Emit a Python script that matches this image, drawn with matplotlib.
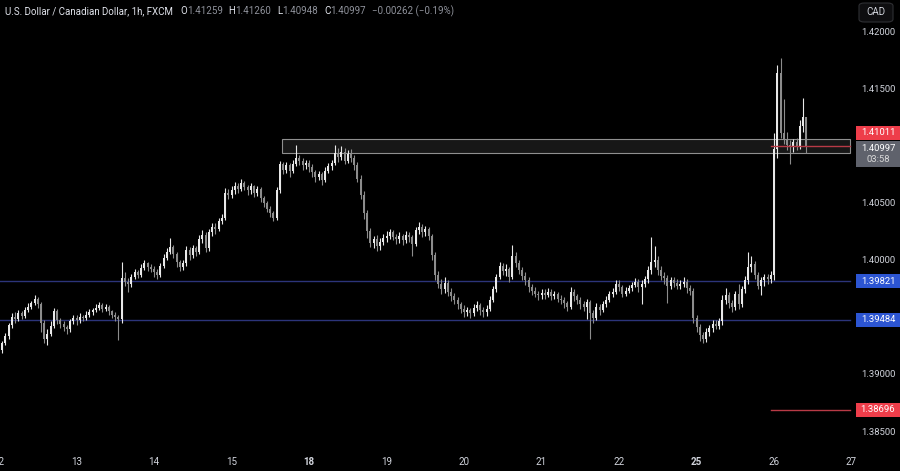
import matplotlib
matplotlib.use("Agg")
import matplotlib.pyplot as plt
from matplotlib.patches import Rectangle, FancyBboxPatch
import numpy as np

# USD/CAD 1h candles, 12th -> 26th (weekend removed)
first_open = 1.3929
closes = [
    # 12
    1.3922, 1.3928, 1.3934, 1.3944, 1.3951, 1.3949, 1.3954, 1.3952, 1.3957, 1.3960, 1.3963, 1.3967,
    1.3962, 1.3946, 1.3932, 1.3936, 1.3943, 1.3956, 1.3948, 1.3945, 1.3942, 1.3940, 1.3947, 1.3950,
    # 13
    1.3948, 1.3951, 1.3950, 1.3953, 1.3955, 1.3957, 1.3959, 1.3961, 1.3958, 1.3960, 1.3956, 1.3953,
    1.3951, 1.3949, 1.3985, 1.3982, 1.3980, 1.3986, 1.3990, 1.3988, 1.3994, 1.3998, 1.3995, 1.3993,
    # 14
    1.3990, 1.3988, 1.3996, 1.4003, 1.4008, 1.4012, 1.4006, 1.3999, 1.3995, 1.3998, 1.4010, 1.4005,
    1.4011, 1.4008, 1.4019, 1.4023, 1.4011, 1.4025, 1.4030, 1.4028, 1.4035, 1.4038, 1.4060, 1.4058,
    # 15
    1.4062, 1.4066, 1.4063, 1.4068, 1.4065, 1.4062, 1.4066, 1.4060, 1.4063, 1.4055, 1.4051, 1.4046,
    1.4042, 1.4038, 1.4062, 1.4085, 1.4080, 1.4084, 1.4079, 1.4085, 1.4090, 1.4088, 1.4084, 1.4086,
    # 18
    1.4082, 1.4078, 1.4074, 1.4076, 1.4071, 1.4079, 1.4083, 1.4086, 1.4095, 1.4091, 1.4096, 1.4088,
    1.4094, 1.4090, 1.4084, 1.4072, 1.4058, 1.4042, 1.4026, 1.4016, 1.4019, 1.4013, 1.4017, 1.4020,
    # 19
    1.4022, 1.4025, 1.4021, 1.4019, 1.4022, 1.4018, 1.4023, 1.4021, 1.4015, 1.4027, 1.4030, 1.4025,
    1.4028, 1.4022, 1.4005, 1.3988, 1.3980, 1.3975, 1.3981, 1.3973, 1.3969, 1.3966, 1.3962, 1.3958,
    # 20
    1.3955, 1.3957, 1.3954, 1.3959, 1.3961, 1.3957, 1.3955, 1.3958, 1.3966, 1.3975, 1.3986, 1.3996,
    1.3991, 1.3993, 1.3986, 1.4004, 1.3998, 1.3992, 1.3987, 1.3983, 1.3977, 1.3974, 1.3971, 1.3970,
    # 21
    1.3972, 1.3970, 1.3973, 1.3969, 1.3971, 1.3967, 1.3966, 1.3963, 1.3960, 1.3973, 1.3969, 1.3966,
    1.3962, 1.3960, 1.3964, 1.3954, 1.3950, 1.3960, 1.3957, 1.3962, 1.3966, 1.3971, 1.3973, 1.3980,
    # 22
    1.3977, 1.3971, 1.3974, 1.3976, 1.3979, 1.3982, 1.3977, 1.3980, 1.3984, 1.3992, 1.3999, 1.4001,
    1.3992, 1.3987, 1.3985, 1.3978, 1.3983, 1.3981, 1.3978, 1.3980, 1.3982, 1.3976, 1.3974, 1.3950,
    # 25
    1.3942, 1.3935, 1.3932, 1.3938, 1.3941, 1.3945, 1.3943, 1.3947, 1.3966, 1.3970, 1.3963, 1.3960,
    1.3971, 1.3962, 1.3975, 1.3983, 1.3995, 1.3997, 1.3988, 1.3978, 1.3983, 1.3986, 1.3984, 1.3988,
    # 26
    1.4098, 1.4165, 1.4112, 1.4107, 1.4102, 1.4100, 1.4104, 1.4101, 1.4118, 1.41259, 1.40997,
]
highs = [
    1.3931, 1.3930, 1.3937, 1.3946, 1.3954, 1.3955, 1.3957, 1.3956, 1.3960, 1.3963, 1.3965, 1.3970,
    1.3968, 1.3964, 1.3948, 1.3940, 1.3947, 1.3959, 1.3958, 1.3950, 1.3947, 1.3944, 1.3949, 1.3953,
    1.3953, 1.3954, 1.3953, 1.3956, 1.3958, 1.3959, 1.3962, 1.3964, 1.3963, 1.3962, 1.3961, 1.3957,
    1.3955, 1.3953, 1.3999, 1.3990, 1.3985, 1.3989, 1.3993, 1.3992, 1.3997, 1.4001, 1.3999, 1.3997,
    1.3996, 1.3993, 1.3998, 1.4006, 1.4011, 1.4020, 1.4014, 1.4008, 1.4001, 1.4001, 1.4013, 1.4012,
    1.4014, 1.4013, 1.4023, 1.4027, 1.4025, 1.4028, 1.4033, 1.4033, 1.4038, 1.4041, 1.4064, 1.4063,
    1.4066, 1.4069, 1.4068, 1.4072, 1.4070, 1.4067, 1.4068, 1.4067, 1.4066, 1.4065, 1.4057, 1.4053,
    1.4048, 1.4044, 1.4065, 1.4088, 1.4087, 1.4087, 1.4086, 1.4089, 1.4102, 1.4093, 1.4090, 1.4089,
    1.4089, 1.4085, 1.4080, 1.4079, 1.4078, 1.4082, 1.4086, 1.4089, 1.4102, 1.4099, 1.4101, 1.4099,
    1.4097, 1.4098, 1.4093, 1.4087, 1.4075, 1.4061, 1.4045, 1.4029, 1.4022, 1.4023, 1.4020, 1.4024,
    1.4026, 1.4028, 1.4027, 1.4024, 1.4025, 1.4024, 1.4026, 1.4025, 1.4023, 1.4030, 1.4034, 1.4032,
    1.4031, 1.4030, 1.4024, 1.4008, 1.3991, 1.3984, 1.3986, 1.3983, 1.3976, 1.3972, 1.3968, 1.3964,
    1.3961, 1.3960, 1.3959, 1.3962, 1.3965, 1.3963, 1.3960, 1.3961, 1.3969, 1.3978, 1.3989, 1.3999,
    1.3998, 1.3997, 1.3995, 1.4014, 1.4008, 1.4001, 1.3995, 1.3990, 1.3986, 1.3980, 1.3977, 1.3974,
    1.3975, 1.3975, 1.3976, 1.3975, 1.3974, 1.3973, 1.3970, 1.3968, 1.3965, 1.3977, 1.3975, 1.3971,
    1.3968, 1.3965, 1.3967, 1.3966, 1.3957, 1.3963, 1.3962, 1.3965, 1.3969, 1.3974, 1.3976, 1.3983,
    1.3983, 1.3979, 1.3977, 1.3979, 1.3982, 1.3985, 1.3984, 1.3983, 1.3987, 1.3996, 1.4021, 1.4013,
    1.4004, 1.3996, 1.3990, 1.3988, 1.3986, 1.3986, 1.3984, 1.3983, 1.3986, 1.3984, 1.3979, 1.3976,
    1.3953, 1.3945, 1.3938, 1.3941, 1.3944, 1.3948, 1.3948, 1.3950, 1.3970, 1.3976, 1.3973, 1.3966,
    1.3974, 1.3980, 1.3978, 1.3987, 1.4008, 1.4004, 1.4000, 1.3990, 1.3986, 1.3989, 1.3989, 1.3991,
    1.4112, 1.4172, 1.4178, 1.4142, 1.4113, 1.4106, 1.4107, 1.4108, 1.4124, 1.4143, 1.41260,
]
lows = [
    1.3918, 1.3919, 1.3926, 1.3932, 1.3941, 1.3946, 1.3947, 1.3949, 1.3950, 1.3955, 1.3958, 1.3961,
    1.3959, 1.3938, 1.3928, 1.3926, 1.3934, 1.3941, 1.3945, 1.3941, 1.3939, 1.3936, 1.3938, 1.3945,
    1.3944, 1.3946, 1.3947, 1.3948, 1.3951, 1.3953, 1.3955, 1.3957, 1.3955, 1.3956, 1.3953, 1.3950,
    1.3947, 1.3931, 1.3946, 1.3978, 1.3973, 1.3977, 1.3984, 1.3985, 1.3986, 1.3992, 1.3991, 1.3990,
    1.3986, 1.3984, 1.3986, 1.3994, 1.4001, 1.4006, 1.4003, 1.3995, 1.3991, 1.3992, 1.3996, 1.4001,
    1.4003, 1.4004, 1.4006, 1.4016, 1.4008, 1.4009, 1.4022, 1.4024, 1.4026, 1.4032, 1.4036, 1.4054,
    1.4055, 1.4059, 1.4060, 1.4061, 1.4062, 1.4058, 1.4059, 1.4056, 1.4057, 1.4052, 1.4047, 1.4043,
    1.4039, 1.4035, 1.4036, 1.4060, 1.4076, 1.4077, 1.4074, 1.4077, 1.4083, 1.4084, 1.4080, 1.4081,
    1.4078, 1.4074, 1.4069, 1.4071, 1.4067, 1.4069, 1.4077, 1.4080, 1.4084, 1.4087, 1.4089, 1.4085,
    1.4086, 1.4087, 1.4080, 1.4069, 1.4054, 1.4037, 1.4020, 1.4012, 1.4011, 1.4009, 1.4010, 1.4014,
    1.4017, 1.4019, 1.4018, 1.4015, 1.4016, 1.4014, 1.4016, 1.4017, 1.4004, 1.4013, 1.4024, 1.4021,
    1.4022, 1.4018, 1.4001, 1.3983, 1.3976, 1.3971, 1.3972, 1.3969, 1.3965, 1.3962, 1.3958, 1.3954,
    1.3951, 1.3952, 1.3950, 1.3952, 1.3956, 1.3953, 1.3951, 1.3952, 1.3956, 1.3964, 1.3973, 1.3984,
    1.3988, 1.3987, 1.3982, 1.3984, 1.3995, 1.3989, 1.3983, 1.3979, 1.3973, 1.3970, 1.3968, 1.3966,
    1.3967, 1.3967, 1.3968, 1.3966, 1.3967, 1.3964, 1.3962, 1.3959, 1.3956, 1.3958, 1.3965, 1.3962,
    1.3958, 1.3956, 1.3949, 1.3932, 1.3946, 1.3948, 1.3953, 1.3955, 1.3960, 1.3964, 1.3968, 1.3971,
    1.3974, 1.3968, 1.3969, 1.3972, 1.3974, 1.3977, 1.3973, 1.3962, 1.3977, 1.3981, 1.3989, 1.3995,
    1.3988, 1.3983, 1.3980, 1.3963, 1.3975, 1.3977, 1.3975, 1.3975, 1.3977, 1.3972, 1.3970, 1.3946,
    1.3938, 1.3930, 1.3928, 1.3929, 1.3934, 1.3938, 1.3940, 1.3940, 1.3944, 1.3962, 1.3959, 1.3955,
    1.3957, 1.3958, 1.3960, 1.3972, 1.3980, 1.3990, 1.3984, 1.3975, 1.3970, 1.3978, 1.3980, 1.3981,
    1.3983, 1.4090, 1.4108, 1.4103, 1.4097, 1.4085, 1.4096, 1.4097, 1.4098, 1.4113, 1.40948,
]

days = ['12', '13', '14', '15', '18', '19', '20', '21', '22', '25', '26', '27']
week_starts = ['18', '25']
bars_per_day = 24
price_ticks = [1.42, 1.415, 1.405, 1.40, 1.39, 1.385]

support_levels = [1.39821, 1.39484]
zone_low, zone_high = 1.40947, 1.41070
zone_start = 87.6          # candle index where the resistance box begins
red_levels = [1.41011, 1.38696]
red_start = 239.0
last_price = 1.40997
countdown = '03:58'

title = 'U.S. Dollar / Canadian Dollar, 1h, FXCM'
ohlc = [('O', '1.41259'), ('H', '1.41260'), ('L', '1.40948'), ('C', '1.40997')]
change = '\u22120.00262 (\u22120.19%)'

W, H = 900, 471
plt.rcParams['font.family'] = ['Roboto', 'DejaVu Sans']
fig = plt.figure(figsize=(W / 100, H / 100), dpi=100, facecolor='black')
ax = fig.add_axes([0, 0, 1, 1], facecolor='black')
ax.set_axis_off()

ymin, ymax = 1.38158, 1.42289
px = (ymax - ymin) / H          # price per pixel
ax.set_ylim(ymin, ymax)
ax.set_xlim(0.31, 279.0)
axis_end = 263.5                 # where the price scale starts

o = np.array([first_open] + closes[:-1])
c = np.array(closes)
idx = np.arange(len(c))
col = np.where(c >= o, '#e8e8e8', '#8c8c8c')

# levels and box behind candles
for lv in support_levels:
    ax.plot([0, axis_end], [lv, lv], color='#2c347a', lw=1.0, zorder=1)
ax.add_patch(Rectangle((zone_start, zone_low), axis_end - zone_start, zone_high - zone_low,
                       facecolor='#171717', edgecolor='#8f8f8f', lw=0.8, zorder=1))
for lv in red_levels:
    ax.plot([red_start, axis_end], [lv, lv], color='#b83a46', lw=1.0, zorder=3)

ax.vlines(idx, lows, highs, colors=col, lw=0.8, zorder=2)
ax.bar(idx, np.maximum(np.abs(c - o), 0.6 * px), bottom=np.minimum(o, c),
       width=0.62, color=col, lw=0, zorder=2)

# day labels
tx = ax.get_xaxis_transform()
for k, d in enumerate(days):
    ax.text(k * bars_per_day, 1 - 462 / H, d, transform=tx, ha='center', va='center',
            color='#d1d4dc', fontsize=7, fontweight='bold' if d in week_starts else 'normal')

# price scale
ty = ax.get_yaxis_transform()
for p in price_ticks:
    ax.text(878 / W, p, f'{p:.5f}', transform=ty, ha='center', va='center',
            color='#d1d4dc', fontsize=6.8)


def tag(y_center, text, face, h=14):
    ax.add_patch(Rectangle((856 / W, y_center - h / 2 * px), 44 / W, h * px,
                           transform=ty, facecolor=face, lw=0, zorder=5))
    ax.text(878 / W, y_center, text, transform=ty, ha='center', va='center',
            color='white', fontsize=6.8, zorder=6)


tag(red_levels[0] + 13 * px, f'{red_levels[0]:.5f}', '#ee3d4a')
ax.add_patch(Rectangle((856 / W, last_price - 19.5 * px), 44 / W, 25.5 * px,
                       transform=ty, facecolor='#5f626c', lw=0, zorder=5))
ax.text(878 / W, last_price - 1 * px, f'{last_price:.5f}', transform=ty, ha='center',
        va='center', color='white', fontsize=6.8, zorder=6)
ax.text(878 / W, last_price - 12.5 * px, countdown, transform=ty, ha='center',
        va='center', color='#d8d8d8', fontsize=6.8, zorder=6)
for lv in support_levels:
    tag(lv, f'{lv:.5f}', '#2c55d2')
tag(red_levels[1], f'{red_levels[1]:.5f}', '#ee3d4a')

# currency button
fig.patches.append(FancyBboxPatch((859 / W, 1 - 22 / H), 34 / W, 19 / H,
                                  boxstyle='round,pad=0,rounding_size=0.006',
                                  transform=fig.transFigure, facecolor='#0e0e10',
                                  edgecolor='#2e2f33', lw=0.8))
fig.text(876 / W, 1 - 12 / H, 'CAD', ha='center', va='center', color='#d1d4dc', fontsize=7)

# header line
fig.canvas.draw()
r = fig.canvas.get_renderer()
pieces = [(title, '#e0e3eb', 7)]
for k, v in ohlc:
    pieces += [(k, '#e0e3eb', 0), (v, '#8f929b', 6)]
pieces += [(change, '#8f929b', 0)]
x = 5
for s, clr, gap in pieces:
    t = fig.text(x / W, 1 - 11 / H, s, ha='left', va='center', color=clr, fontsize=7)
    x += t.get_window_extent(renderer=r).width + gap

fig.savefig('out.png', dpi=100, facecolor='black')
